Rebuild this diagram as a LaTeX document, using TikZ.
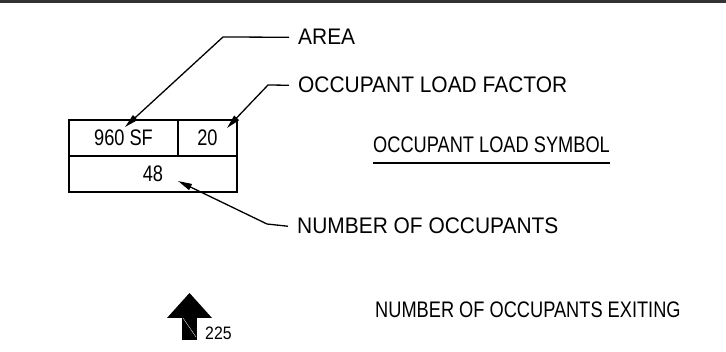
\documentclass[tikz,border=0pt]{standalone}
\usepackage{fontspec}
\setmainfont{Liberation Sans}
\newfontfamily\leftfont[FakeStretch=0.93]{Liberation Sans}
\newfontfamily\narrowfont[FakeStretch=0.81]{Liberation Sans}
\newfontfamily\numfont[FakeStretch=0.88]{Liberation Sans}
\usetikzlibrary{arrows.meta}
\tikzset{
  lab/.style={anchor=base west, inner sep=0pt, font=\leftfont\fontsize{22.5}{25}\selectfont},
  rlab/.style={anchor=base west, inner sep=0pt, font=\narrowfont\fontsize{22.5}{25}\selectfont},
  cell/.style={draw, line width=1.4pt, inner sep=0pt, font=\narrowfont\fontsize{22.5}{25}\selectfont},
  leader/.style={line width=1.3pt, -{Triangle[length=14pt,width=6.5pt]}},
}
\begin{document}
\begin{tikzpicture}[x=1pt,y=-1pt]
\useasboundingbox (0,0) rectangle (726,352);
\fill[black!80] (0,0) rectangle (726,3);

% symbol box
\node[cell, minimum width=109pt, minimum height=36pt] (c1) at (123.5,138) {960 SF};
\node[cell, minimum width=59pt, minimum height=36pt] (c2) at (207.5,138) {20};
\node[cell, minimum width=168pt, minimum height=36pt] (c3) at (153,174) {48};

% labels
\node[lab] (area) at (298,45) {AREA};
\node[lab] (olf) at (298,93) {OCCUPANT LOAD FACTOR};
\node[lab] (num) at (297,234) {NUMBER OF OCCUPANTS};
\node[rlab] (sym) at (373,153) {OCCUPANT LOAD SYMBOL};
\node[rlab] (exit) at (375,318) {NUMBER OF OCCUPANTS EXITING};
\draw[line width=1.3pt] ([yshift=-10pt]sym.base west) -- ([yshift=-10pt]sym.base east);

% leaders
\coordinate (ka) at (223,37);
\coordinate (ta) at (125,127);
\coordinate (ko) at (268,85);
\coordinate (to) at (227,128);
\coordinate (kn) at (267,224);
\coordinate (tn) at (178,181);
\draw[leader] ([xshift=-9pt]area.west) -- (ka) -- (ta);
\draw[leader] ([xshift=-9pt]olf.west) -- (ko) -- (to);
\draw[leader] ([xshift=-9pt]num.west) -- (kn) -- (tn);

% exiting arrow
\fill (167,318) -- (189.5,293) -- (212,318) -- cycle;
\fill (182,317) rectangle (197,340);
\draw[white, line width=0.3pt] (183,318) -- (196,337);
\node[anchor=base west, inner sep=0pt, font=\numfont\fontsize{18}{20}\selectfont] (n225) at (205,340) {225};
\end{tikzpicture}
\end{document}
